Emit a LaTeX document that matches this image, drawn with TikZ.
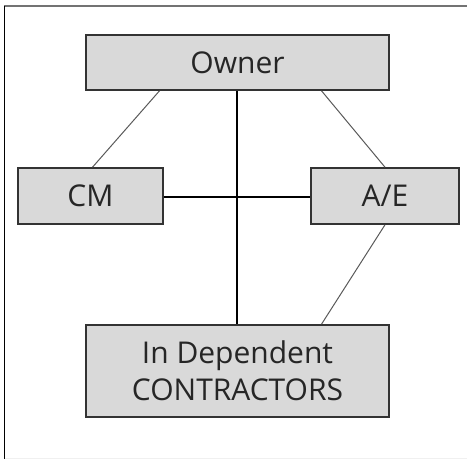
\documentclass[tikz,border=0pt]{standalone}
\usepackage{fontspec}
\setmainfont{Open Sans}
\begin{document}
\begin{tikzpicture}[x=1pt,y=-1pt,
  box/.style={draw=black!80, line width=1.6pt, fill=black!15, inner sep=0pt, text=black!85, font=\fontsize{30}{37}\selectfont, align=center},
  thick link/.style={draw=black, line width=1.4pt},
  thin link/.style={draw=black!65, line width=1pt}]
\useasboundingbox (0,0) rectangle (467,459);
\draw[black!55, line width=1.5pt] (4,6) -- (467,6);
\draw[black, line width=1.5pt] (4.5,6) -- (4.5,459);
\draw[black!6, line width=1pt] (4.5,458) -- (467,458);
\node[box, minimum width=303pt, minimum height=55pt] (owner) at (237.5,62.5) {Owner};
\node[box, minimum width=145pt, minimum height=56pt] (cm) at (90.5,196) {CM};
\node[box, minimum width=148pt, minimum height=56pt] (ae) at (385,196) {A/E};
\node[box, minimum width=303pt, minimum height=92pt] (ic) at (237.5,371) {In Dependent\\CONTRACTORS};
\coordinate (x) at (237,197);
\draw[thick link] (owner.south -| x) -- (ic.north -| x);
\draw[thick link] (cm.east |- x) -- (ae.west |- x);
\draw[thin link] ([xshift=-78pt]owner.south) -- ([xshift=2pt]cm.north);
\draw[thin link] ([xshift=84pt]owner.south) -- (ae.north);
\draw[thin link] (ae.south) -- ([xshift=84pt]ic.north);
\end{tikzpicture}
\end{document}
